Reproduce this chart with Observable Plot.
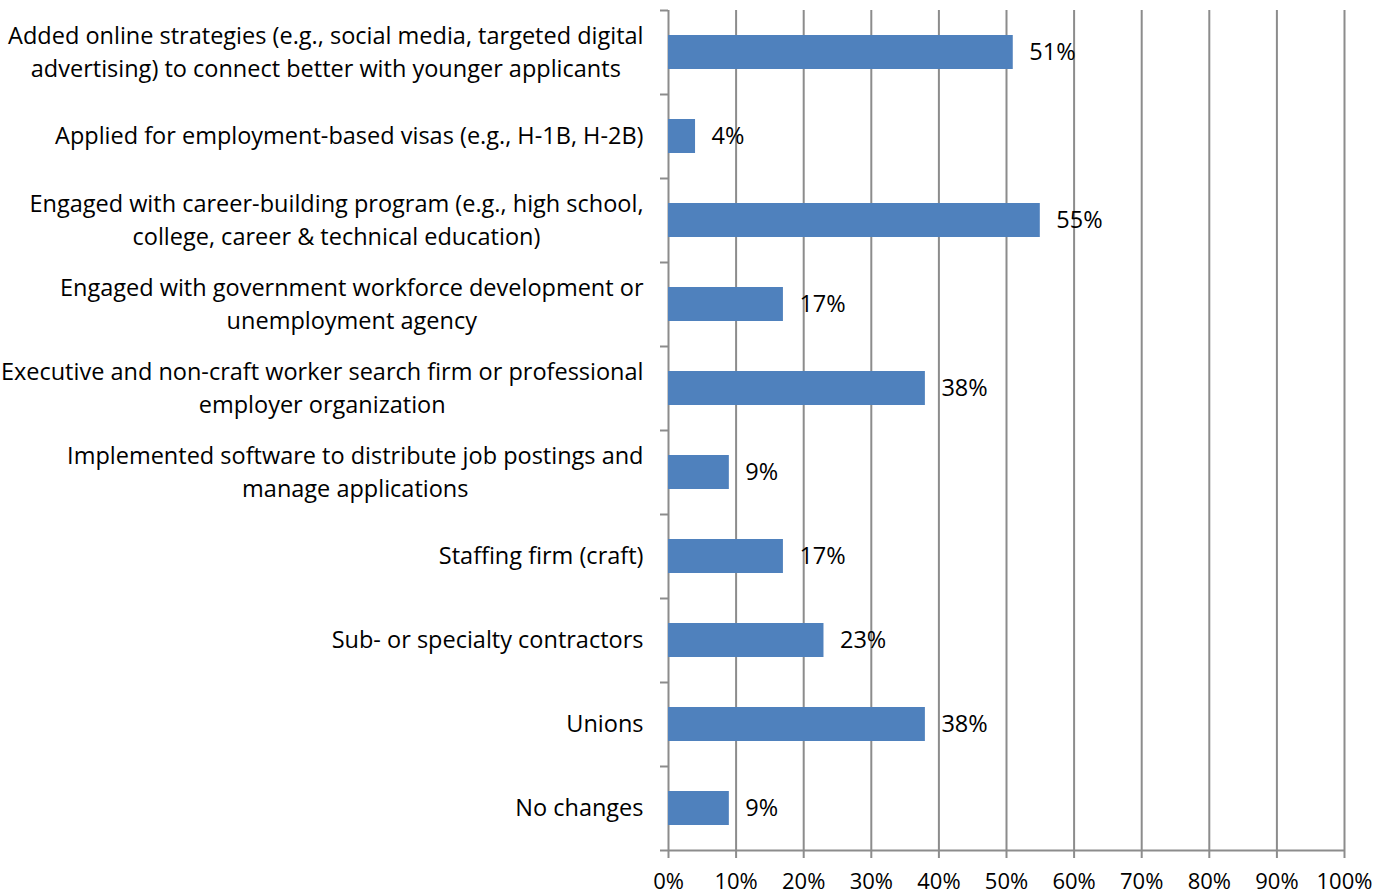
<!DOCTYPE html>
<html>
<head>
<meta charset="utf-8">
<script src="https://cdn.jsdelivr.net/npm/d3@7"></script>
<script src="https://cdn.jsdelivr.net/npm/@observablehq/plot@0.6"></script>
<style>
  html, body { margin: 0; padding: 0; background: #fff; }
</style>
</head>
<body>
<div id="chart"></div>
<script>
const categories = [
  "Added online strategies (e.g., social media, targeted digital\nadvertising) to connect better with younger applicants",
  "Applied for employment-based visas (e.g., H-1B, H-2B)",
  "Engaged with career-building program (e.g., high school,\ncollege, career & technical education)",
  "Engaged with government workforce development or\nunemployment agency",
  "Executive and non-craft worker search firm or professional\nemployer organization",
  "Implemented software to distribute job postings and\nmanage applications",
  "Staffing firm (craft)",
  "Sub- or specialty contractors",
  "Unions",
  "No changes"
];
const values = [51, 4, 55, 17, 38, 9, 17, 23, 38, 9];
const xTicks = [0, 10, 20, 30, 40, 50, 60, 70, 80, 90, 100];

const data = categories.map((c, i) => ({category: c, value: values[i]}));

const FONT = "'Open Sans', sans-serif";
const FS = 23.5;
const TICK_FS = 22;
const LH = 33 / FS;
const GRID = "#8c8c8c";

const canvas = document.createElement("canvas");
const ctx = canvas.getContext("2d");
ctx.font = `${FS}px 'Open Sans'`;
function blockWidth(s) {
  return Math.max(...s.split("\n").map(l => ctx.measureText(l).width));
}

const labelMarks = data.map(d =>
  Plot.text([d], {
    x: () => 0,
    y: "category",
    text: "category",
    textAnchor: "middle",
    lineAnchor: "middle",
    lineHeight: LH,
    fill: "#000",
    dx: -(25 + blockWidth(d.category) / 2),
    dy: -0.32 * (LH - 1) * FS
  })
);

const chart = Plot.plot({
  width: 1391,
  height: 896,
  marginLeft: 668,
  marginRight: 47,
  marginTop: 10,
  marginBottom: 46,
  style: {fontFamily: FONT, fontSize: FS + "px", color: "#000", background: "#fff", overflow: "visible"},
  x: {domain: [0, 100]},
  y: {domain: categories, paddingInner: 50 / 84, paddingOuter: 25 / 84},
  marks: [
    Plot.ruleX(xTicks, {stroke: GRID, strokeWidth: 2}),
    Plot.barX(data, {x: "value", y: "category", fill: "#4f81bd"}),
    Plot.axisY({tickSize: 8, tickFormat: () => "", dy: -42, stroke: GRID, strokeWidth: 2, label: null}),
    Plot.axisY({ticks: [categories[categories.length - 1]], tickSize: 8, tickFormat: () => "", dy: 42, stroke: GRID, strokeWidth: 2, label: null}),
    Plot.ruleY([categories[categories.length - 1]], {dy: 42, stroke: GRID, strokeWidth: 2}),
    Plot.axisX({ticks: xTicks, tickSize: 8, tickPadding: 15, tickFormat: d => d + "%", stroke: GRID, strokeWidth: 2, fill: "#000", fontSize: TICK_FS, label: null}),
    Plot.text(data, {x: "value", y: "category", text: d => d.value + "%", textAnchor: "start", dx: 16, fill: "#000"}),
    ...labelMarks
  ]
});

document.getElementById("chart").appendChild(chart);
</script>
</body>
</html>
